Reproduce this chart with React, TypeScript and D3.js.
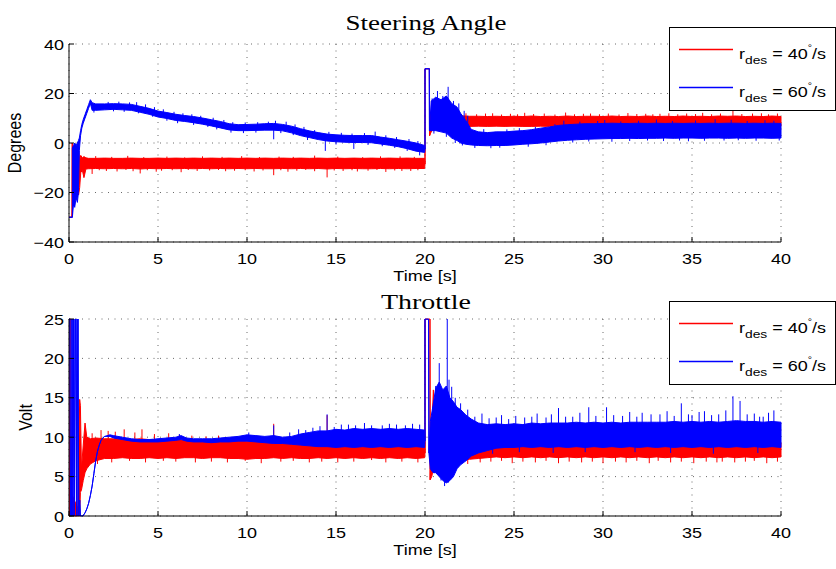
import React, { useEffect } from "react";
import * as d3 from "d3";

type Row = [number, number, number];
type Band = Row[];
type Spike = [number, number][];

// ---------- axis data ----------
const timeTicks = [0, 5, 10, 15, 20, 25, 30, 35, 40];
const timeTickLabels = ["0", "5", "10", "15", "20", "25", "30", "35", "40"];
const steerTicks = [-40, -20, 0, 20, 40];
const steerTickLabels = ["\u221240", "\u221220", "0", "20", "40"];
const throttleTicks = [0, 5, 10, 15, 20, 25];
const throttleTickLabels = ["0", "5", "10", "15", "20", "25"];
const legendValues = ["40", "60"];

// ---------- series: [time, low, high] envelopes ----------
const steer40: Band = [
  [0, -30, -30], [0.16, -30, -30], [0.17, -30, 0], [0.22, -24, -1], [0.3, -20, -3], [0.38, -23, -1], [0.46, -19, -4], [0.54, -21, -2],
  [0.6, -18, -7], [0.66, -12, -5], [0.75, -11, -6], [0.84, -14, -5.5], [0.95, -10.5, -6], [1.1, -10.4, -6.2], [1.5, -10.3, -6.2],
  [2, -10.4, -6.1], [2.5, -10.3, -6.2], [3, -10.4, -6.2], [3.5, -10.3, -6.1], [4, -10.5, -6.2], [4.5, -10.3, -6.2],
  [5, -10.4, -6.1], [5.5, -10.3, -6.2], [6, -10.4, -6.1], [6.5, -10.3, -6.2], [7, -10.4, -6.1], [7.5, -10.3, -6.2], [8, -10.4, -6.1],
  [8.5, -10.3, -6.2], [9, -10.4, -6.1], [9.5, -10.3, -6.2], [10, -10.4, -6.1], [10.5, -10.3, -6.2], [11, -10.4, -6.1], [11.5, -10.4, -6.2],
  [12, -10.3, -6.1], [12.5, -10.4, -6.2], [13, -10.3, -6.1], [13.5, -10.4, -6.2], [14, -10.3, -6.1], [14.5, -10.5, -6.2], [15, -10.3, -6.1],
  [15.5, -10.4, -6.2], [16, -10.3, -6.1], [16.5, -10.4, -6.2], [17, -10.4, -6.1], [17.5, -10.3, -6.2], [18, -10.4, -6.1], [18.5, -10.3, -6.2],
  [19, -10.4, -6.1], [19.5, -10.3, -6.2], [19.98, -10.3, -6.2],
  [20.0, -8.5, -8.5], [20.0, 30, 30], [20.25, 30, 30], [20.26, 3, 3], [20.32, 4, 12], [20.45, 6, 16], [20.6, 6.5, 14], [20.8, 6.2, 13],
  [21, 6.5, 12.5], [21.3, 6.4, 12], [21.6, 6.5, 11.5], [22, 6.7, 11], [22.5, 6.7, 10.8], [23, 6.8, 10.8],
  [23.5, 6.7, 10.7], [24, 6.8, 10.8], [24.5, 6.7, 10.7], [25, 6.8, 10.8], [25.5, 6.7, 10.7], [26, 6.7, 10.9], [26.5, 6.8, 10.7],
  [27, 6.7, 10.8], [27.5, 6.8, 10.7], [28, 6.7, 10.9], [28.5, 6.8, 10.7], [29, 6.7, 10.8], [29.5, 6.8, 10.8], [30, 6.7, 10.7],
  [30.5, 6.7, 10.9], [31, 6.8, 10.7], [31.5, 6.7, 10.8], [32, 6.8, 10.7], [32.5, 6.7, 10.9], [33, 6.8, 10.7], [33.5, 6.7, 10.8],
  [34, 6.7, 10.7], [34.5, 6.8, 10.9], [35, 6.7, 10.7], [35.5, 6.8, 10.8], [36, 6.7, 10.7], [36.5, 6.8, 10.9], [37, 6.7, 10.8],
  [37.5, 6.7, 10.9], [38, 6.8, 10.7], [38.5, 6.7, 10.8], [39, 6.8, 10.7], [39.5, 6.7, 10.9], [40, 6.8, 10.7],
];
const steer40Spikes: Spike = [
  [1.3, -12.5], [1.7, -11], [2.1, -11.3], [2.7, -11.5], [3.2, -10.9], [3.6, -11.4], [4.0, -12.3], [4.4, -11], [4.9, -11.6],
  [5.2, -11.2], [5.8, -11], [6.3, -11.8], [6.7, -10.9], [7.2, -11.3], [7.9, -11.1], [8.4, -10.9], [8.8, -11.4], [9.3, -11.2],
  [9.9, -11], [10.4, -11.5], [10.9, -11.1], [11.5, -13], [11.9, -11], [12.3, -11.6], [12.8, -11.2], [13.3, -10.9], [13.8, -11.4],
  [14.5, -13.9], [14.9, -11.1], [15.4, -11.3], [15.9, -11], [16.2, -11.5], [16.8, -11.2], [17.3, -10.9], [17.8, -11.7],
  [18.3, -11.1], [18.7, -11.3], [19.2, -11.3], [19.6, -11],
  [1.5, -5.3], [2.4, -5.6], [3.3, -5.2], [4.2, -5.7], [5.5, -5.5], [6.5, -5.8], [7.5, -5.4], [8.6, -5.6], [9.7, -5.3],
  [10.7, -5.7], [11.8, -5.5], [12.6, -5.6], [13.8, -5.1], [15.1, -5.5], [16.5, -5.7], [17.5, -5.4], [18.6, -5.4], [19.4, -5.6],
  [22.3, 12], [22.9, 11.6], [23.4, 11.9], [23.8, 12], [24.3, 11.5], [24.8, 11.8], [25.2, 11.6], [25.6, 12.2], [26.1, 11.7],
  [26.7, 11.9], [27.3, 11.5], [27.9, 12.3], [28.4, 11.6], [28.9, 11.8], [29.3, 11.9], [29.8, 11.6], [30.3, 11.9], [30.9, 11.5],
  [31.4, 12.1], [31.9, 11.7], [32.4, 11.8], [32.8, 11.6], [33.2, 11.8], [33.7, 12], [34.2, 11.6], [34.7, 11.9], [35.2, 11.7],
  [35.6, 12.2], [36.1, 11.6], [36.6, 11.9], [37.3, 13], [37.8, 11.7], [38.4, 11.9], [38.9, 12], [39.3, 11.6], [39.8, 11.9],
];

const steer60: Band = [
  [0, -30, -30], [0.19, -30, -30], [0.19, -30, -2], [0.25, -25, -1], [0.32, -26, 0], [0.4, -22, -1], [0.47, -24, 0], [0.53, -20, 1],
  [0.58, -3, 2], [0.65, 3, 5], [0.72, 6, 7.5], [0.8, 8, 9.5], [0.9, 10, 11.5], [1.0, 12, 13.5], [1.1, 14, 15.5], [1.2, 16, 17.5],
  [1.3, 13.2, 16.3], [1.5, 13.2, 15.8], [2, 13.4, 15.8], [2.5, 13.6, 15.9], [3, 13.4, 15.8], [3.5, 13.2, 15.6], [4, 12.4, 14.8],
  [4.5, 11.6, 14], [5, 10.5, 12.9], [5.5, 9.9, 12.3], [6, 9.1, 11.6], [6.5, 8.7, 11.1], [7, 8.2, 10.7], [7.5, 7.6, 10.1], [8, 6.9, 9.4],
  [8.5, 6.1, 8.7], [9, 5.3, 7.8], [9.5, 5, 7.4], [10, 5, 7.5], [10.5, 5.1, 7.6], [11, 5.2, 7.8], [11.5, 5.2, 7.9], [12, 4.9, 7.5],
  [12.5, 4.1, 6.8], [13, 3, 5.8], [13.5, 2.2, 4.9], [14, 1.4, 4.2], [14.5, 0.8, 3.6], [15, 0.5, 3.3], [15.5, 0.3, 3.1], [16, 0.2, 3],
  [16.5, 0.2, 3], [17, 0.1, 3], [17.5, -0.4, 2.4], [18, -0.9, 1.9], [18.5, -1.5, 1.3], [19, -2.3, 0.7], [19.5, -3.3, 0], [19.98, -3.8, -1],
  [20.0, -2.5, -2.5], [20.0, 30, 30], [20.24, 30, 30], [20.25, 5, 5], [20.35, 5, 17], [20.6, 5, 18.5], [20.9, 4.5, 17.5], [21.2, 4, 19],
  [21.5, 2, 16], [21.8, 1, 14.5], [22, 0, 12], [22.3, -0.5, 9], [22.6, -0.8, 5.5], [23, -1, 4.5], [23.5, -1.1, 4.2], [24, -1, 4.5],
  [24.5, -1, 4.5], [25, -0.8, 4.8], [25.5, -0.5, 5], [26, -0.3, 5.4], [26.5, 0, 6], [27, 0.4, 6.5], [27.5, 0.8, 7.1], [28, 1.1, 7.4],
  [28.5, 1.3, 7.6], [29, 1.5, 7.8], [29.5, 1.6, 7.8], [30, 1.7, 7.9], [30.5, 1.8, 8], [31, 1.8, 7.9], [31.5, 1.9, 7.9], [32, 1.8, 8],
  [32.5, 1.9, 7.9], [33, 1.9, 8], [33.5, 2, 7.9], [34, 1.9, 8], [34.5, 2, 7.9], [35, 2, 8], [35.5, 1.9, 7.9], [36, 2, 8],
  [36.5, 2, 7.9], [37, 1.9, 8], [37.5, 2, 8], [38, 1.9, 7.9], [38.5, 2, 8], [39, 2, 7.9], [39.5, 1.9, 8], [40, 2, 7.9],
];
const steer60Spikes: Spike = [
  [2.2, 16.6], [2.8, 16.7], [3.4, 16.4], [3.8, 16.5], [4.3, 15.6], [4.8, 14.5], [5.3, 13.6], [5.9, 12.6], [6.4, 12], [6.9, 11.6],
  [7.4, 11], [8.1, 10.2], [8.7, 9.3], [9.2, 8.4], [9.9, 8.3], [10.6, 8.4], [11.2, 8.6], [11.6, 9], [12.2, 8.6], [12.7, 7.5],
  [13.2, 6.5], [13.8, 5.2], [14.6, 4.5], [15.3, 4.1], [15.9, 3.8], [16.6, 4], [17.2, 4.6], [17.8, 3.1], [18.4, 2.4], [19.1, 1.6],
  [19.6, 0.8],
  [1.4, 12.3], [2.5, 12.8], [3.1, 12.6], [3.9, 12], [4.7, 10.6], [5.5, 9], [6.1, 8], [7, 7.3], [7.8, 6.5], [8.3, 5.5], [9.1, 4.2],
  [9.8, 4], [10.5, 4.2], [11.5, 1.5], [11.9, 4], [12.6, 3.2], [13.4, 1.2], [14.4, -3.2], [15, -0.6], [16, -2.4], [16.8, -0.8],
  [17.6, -1.3], [18.3, -2], [19, -3.2], [19.7, -5],
  [20.4, 18], [20.7, 21], [21.0, 19], [21.3, 22.7], [21.6, 17], [21.9, 16], [22.2, 13], [22.4, 11], [20.5, 3.8], [21.2, 2.5],
  [21.7, 0], [22.1, -1], [22.8, -2], [23.3, 5.6], [23.7, -2.1], [24.2, -1.9], [24.6, 5.5], [25.3, 6], [25.8, -1.5], [26.2, 6.5],
  [26.8, -0.9], [27.3, 7.6], [27.8, 9], [28.3, 0.2], [28.7, 8.6], [29.2, 0.6], [29.7, 8.9], [30.1, 9.3], [30.5, 0.5], [31.0, 8.7],
  [31.5, 0.8], [32.0, 9], [32.5, 1], [33, 9.5], [33.4, 0.8], [33.9, 8.9], [34.3, 1], [34.8, 0.7], [35.2, 9.1], [35.7, 0.9],
  [36.3, 9.6], [36.8, 1], [37.2, 9.4], [37.6, 1.1], [38.1, 8.9], [38.6, 0.9], [39.1, 9.2], [39.6, 9], [39.9, 1],
];

const throttle40: Band = [
  [0, 0, 0], [0.02, 0, 25], [0.1, 0, 25], [0.12, 0, 3], [0.3, 0, 2], [0.5, 0, 1], [0.6, 0, 14.8], [0.64, 3, 14], [0.7, 3.3, 6],
  [0.8, 4.5, 9], [0.9, 5.5, 11.8], [1.0, 6, 10], [1.2, 6.6, 9.8], [1.5, 7, 9.9], [2, 7.3, 9.8], [2.5, 7.3, 9.8], [3, 7.4, 9.8],
  [3.5, 7.3, 9.7], [4, 7.3, 9.8], [4.5, 7.4, 9.7], [5, 7.3, 9.7], [5.5, 7.4, 9.7], [6, 7.3, 9.7], [6.5, 7.4, 9.6], [7, 7.4, 9.6],
  [7.5, 7.3, 9.6], [8, 7.4, 9.6], [8.5, 7.4, 9.6], [9, 7.3, 9.5], [9.5, 7.3, 9.6], [10, 7.2, 9.5], [10.5, 7.3, 9.5], [11, 7.3, 9.4],
  [11.5, 7.4, 9.5], [12, 7.3, 9.5], [12.5, 7.4, 9.4], [13, 7.3, 9.5], [13.5, 7.3, 9.4], [14, 7.4, 9.5], [14.5, 7.3, 9.4],
  [15, 7.4, 9.5], [15.5, 7.3, 9.4], [16, 7.4, 9.5], [16.5, 7.3, 9.4], [17, 7.4, 9.5], [17.5, 7.3, 9.4], [18, 7.4, 9.4],
  [18.5, 7.3, 9.5], [19, 7.4, 9.4], [19.5, 7.3, 9.5], [19.98, 7.4, 9.4],
  [20.0, 8, 8], [20.0, 25, 25], [20.28, 25, 25], [20.29, 4.6, 4.6], [20.38, 5, 11], [20.47, 6, 16], [20.55, 5.5, 11],
  [20.7, 5.8, 10.5], [21, 6.2, 10], [21.5, 6.5, 9.8], [22, 7, 9.5], [22.5, 7.2, 9.4], [23, 7.3, 9.3], [23.5, 7.4, 9.3],
  [24, 7.5, 9.3], [24.5, 7.4, 9.3], [25, 7.5, 9.3], [25.5, 7.4, 9.2], [26, 7.5, 9.3], [26.5, 7.4, 9.3], [27, 7.5, 9.3],
  [27.5, 7.4, 9.2], [28, 7.5, 9.3], [28.5, 7.4, 9.3], [29, 7.5, 9.3], [29.5, 7.4, 9.2], [30, 7.5, 9.3], [30.5, 7.4, 9.3],
  [31, 7.5, 9.3], [31.5, 7.4, 9.2], [32, 7.5, 9.3], [32.5, 7.4, 9.3], [33, 7.5, 9.3], [33.5, 7.4, 9.2], [34, 7.5, 9.3],
  [34.5, 7.4, 9.3], [35, 7.5, 9.3], [35.5, 7.4, 9.2], [36, 7.5, 9.3], [36.5, 7.4, 9.3], [37, 7.5, 9.3], [37.5, 7.4, 9.2],
  [38, 7.5, 9.3], [38.5, 7.4, 9.3], [39, 7.5, 9.3], [39.5, 7.4, 9.2], [40, 7.5, 9.3],
];
const throttle40Spikes: Spike = [
  [1.3, 10.5], [1.8, 10.9], [2.2, 10.8], [2.6, 10.7], [3.1, 11], [3.7, 10.6], [4.1, 11], [4.8, 10.4], [5.6, 10.5], [6.2, 10.3],
  [6.9, 10.2], [7.7, 10.1], [8.4, 10.2], [9.1, 10], [9.7, 10.1], [10.4, 9.9], [11.5, 11.7], [12.2, 10], [13.1, 9.9], [14.5, 12.8],
  [15.3, 10], [16.2, 9.9], [17.3, 10], [18.4, 9.9], [19.4, 10],
  [1.6, 6.6], [2.4, 6.8], [3.4, 7], [4.3, 6.8], [5.3, 7], [6, 6.9], [7.1, 6.8], [8, 6.9], [8.9, 6.8], [9.9, 7], [10.8, 6.7],
  [11.9, 6.9], [12.6, 7], [13.5, 6.8], [14.2, 6.9], [15.1, 6.8], [16, 6.9], [17, 7.1], [17.8, 6.8], [18.7, 6.9], [19.6, 6.8],
  [20.9, 11.6], [21.4, 10.8], [22.2, 10.2], [20.8, 5], [21.3, 5.5], [21.8, 6.2], [22.4, 6.6], [23.1, 6.8], [23.7, 6.9],
  [24.3, 7], [24.9, 6.7], [25.5, 6.9], [26.2, 6.8], [26.8, 7], [27.5, 6.7], [28.1, 6.9], [28.8, 6.8], [29.4, 6.9], [30, 6.7],
  [30.7, 6.9], [31.3, 6.8], [31.9, 7], [32.6, 6.7], [33.1, 7], [33.8, 6.8], [34.4, 6.9], [35.1, 6.7], [35.8, 6.9], [36.4, 6.8],
  [36.7, 6.9], [37.4, 6.8], [38, 6.9], [38.5, 7], [39.2, 6.7], [39.8, 6.9],
];

const throttle60: Band = [
  [0, 25, 25], [0.05, 25, 25], [0.08, 0, 0], [0.14, 0, 0], [0.17, 25, 25], [0.22, 0, 0], [0.27, 25, 25], [0.31, 0, 0],
  [0.36, 25, 25], [0.4, 25, 25], [0.44, 0, 0], [0.5, 25, 25], [0.55, 0, 0], [0.6, 2, 2], [0.64, 0, 0], [0.78, 0, 0],
  [0.9, 0.4, 0.4], [1.0, 0.9, 0.9], [1.1, 1.6, 1.6], [1.2, 2.6, 2.6], [1.3, 3.8, 3.8], [1.4, 5.4, 5.4], [1.5, 7, 7],
  [1.6, 8.2, 8.2], [1.7, 9, 9], [1.8, 9.6, 9.6], [1.9, 9.9, 9.9], [2.0, 10.1, 10.1], [2.3, 10.1, 10.3], [2.5, 9.9, 10.2],
  [3, 9.7, 10], [3.5, 9.5, 9.8], [4, 9.4, 9.7], [4.5, 9.4, 9.7], [5, 9.4, 9.8], [5.5, 9.5, 9.9], [6, 9.6, 10], [6.3, 9.7, 10.2],
  [6.6, 9.5, 9.9], [7, 9.4, 9.8], [7.5, 9.4, 9.8], [8, 9.3, 9.8], [8.5, 9.4, 9.9], [9, 9.4, 10], [9.5, 9.5, 10.1], [10, 9.5, 10.3],
  [10.5, 9.4, 10.2], [11, 9.3, 10.1], [11.5, 9.2, 10.2], [12, 9.2, 10], [12.5, 9.1, 10.1], [13, 9, 10.4], [13.5, 8.9, 10.6],
  [14, 8.8, 10.8], [14.5, 8.8, 10.8], [15, 8.7, 11], [15.5, 8.8, 10.9], [16, 8.7, 11.1], [16.5, 8.8, 11], [17, 8.7, 11.1],
  [17.5, 8.8, 11], [18, 8.7, 11.1], [18.5, 8.8, 11], [19, 8.7, 11.1], [19.5, 8.8, 11], [19.98, 8.7, 10.9],
  [20.0, 9.5, 9.5], [20.0, 25, 25], [20.2, 25, 25], [20.22, 8, 8], [20.3, 6, 12], [20.45, 5.5, 14], [20.6, 5.5, 16.2],
  [20.8, 5, 17], [21.0, 4.5, 16], [21.2, 4.2, 16.5], [21.4, 4.5, 15], [21.6, 5, 14.5], [21.8, 6, 13.8], [22.0, 6.5, 13.5],
  [22.3, 7, 12.8], [22.6, 7.6, 12.3], [23, 8, 11.8], [23.5, 8.3, 11.6], [24, 8.6, 11.7], [24.5, 8.7, 11.6], [25, 8.7, 11.7],
  [25.5, 8.8, 11.6], [26, 8.7, 11.8], [26.5, 8.8, 11.7], [27, 8.7, 11.8], [27.5, 8.8, 11.8], [28, 8.7, 11.8], [28.5, 8.8, 11.9],
  [29, 8.7, 11.8], [29.5, 8.8, 11.9], [30, 8.7, 11.8], [30.5, 8.8, 11.9], [31, 8.7, 11.8], [31.5, 8.8, 11.9], [32, 8.7, 11.9],
  [32.5, 8.8, 11.9], [33, 8.7, 11.9], [33.5, 8.8, 11.9], [34, 8.7, 12], [34.5, 8.8, 11.9], [35, 8.7, 12], [35.5, 8.8, 11.9],
  [36, 8.7, 12], [36.5, 8.8, 11.9], [37, 8.7, 12], [37.5, 8.8, 12.1], [38, 8.7, 12], [38.5, 8.8, 12], [39, 8.7, 11.9],
  [39.5, 8.8, 12], [40, 8.7, 11.9],
];
const throttle60Spikes: Spike = [
  [6.2, 10.4], [10.1, 10.6], [11.5, 11.5], [12.4, 10.6], [12.9, 11], [13.3, 10.9], [13.7, 11.2], [14.1, 11.4], [14.5, 12.9],
  [14.9, 11.3], [15.3, 11.6], [15.7, 11.6], [16.1, 11.5], [16.6, 11.8], [17.0, 11.5], [17.6, 11.5], [18.0, 11.7], [18.4, 11.6],
  [18.9, 11.5], [19.3, 11.7], [19.7, 11.6],
  [20.8, 19.4], [21.25, 25], [21.35, 17.3], [21.5, 16.4], [20.6, 16.5], [21.1, 3.8], [21.3, 4.2], [20.9, 4.5], [21.7, 15],
  [22.0, 14.3], [22.4, 13.5],
  [22.8, 12.6], [23.2, 13], [23.6, 12.4], [24.0, 12.5], [24.3, 12.8], [24.7, 12.3], [25.1, 12.7], [25.6, 12.5], [26.0, 12.6],
  [26.3, 13], [26.8, 12.5], [27.1, 12.9], [27.5, 13.7], [27.9, 12.6], [28.3, 12.6], [28.7, 13.1], [29.2, 13.8], [29.6, 12.7],
  [30.2, 13.8], [30.6, 12.8], [31.1, 12.7], [31.5, 13.2], [31.9, 12.6], [32.2, 13.1], [32.7, 12.9], [33.2, 12.9], [33.6, 13.3],
  [34.0, 12.7], [34.4, 14.3], [34.8, 12.9], [35.0, 12.8], [35.4, 13.2], [35.7, 13.3], [36.1, 12.8], [36.5, 12.9], [36.9, 13.4],
  [37.3, 15.2], [37.7, 14.6], [38.1, 12.9], [38.5, 13], [38.8, 12.6], [39.0, 12.6], [39.3, 13.1], [39.6, 13.4],
  [23.8, 7.9], [25.3, 8.1], [27.2, 8], [29, 8.1], [31.8, 8.1], [33.8, 8], [36.2, 7.9], [38.7, 8],
];

// ---------- layout ----------
const W = 836;
const H = 569;
const LEFT = 69;
const RIGHT = 781;
const RED = "#ff0000";
const BLUE = "#0000ff";
const SANS = "'Liberation Sans', Arial, Helvetica, sans-serif";
const SERIF = "'Liberation Serif', 'Times New Roman', serif";

function midAt(band: Band, t: number) {
  const i = d3.bisector((d: Row) => d[0]).left(band, t);
  const a = band[Math.max(0, i - 1)];
  const b = band[Math.min(band.length - 1, i)];
  const f = b[0] === a[0] ? 0 : (t - a[0]) / (b[0] - a[0]);
  return ((a[1] + a[2]) / 2) * (1 - f) + ((b[1] + b[2]) / 2) * f;
}

function Label({ x, y, anchor = "middle", size = 15, children }: any) {
  return (
    <text transform={`translate(${x},${y}) scale(1.2,1)`} textAnchor={anchor} fontSize={size} fontFamily={SANS} fill="#000">
      {children}
    </text>
  );
}

function Legend({ top }: { top: number }) {
  const colors = [RED, BLUE];
  return (
    <g>
      <rect x={669.5} y={top + 0.5} width={166} height={83} fill="#fff" stroke="#000" strokeWidth={1} />
      {legendValues.map((v, i) => {
        const ly = top + 22.5 + i * 38;
        return (
          <g key={v}>
            <line x1={679} x2={733} y1={ly} y2={ly} stroke={colors[i]} strokeWidth={1.6} />
            <text transform={`translate(739,${ly + 9}) scale(1.2,1)`} fontSize={15} fontFamily={SANS} fill="#000">
              r
              <tspan fontSize={11.5} dy={5}>des</tspan>
              <tspan fontSize={15} dy={-5}>{` = ${v}`}</tspan>
              <tspan fontSize={9} dy={-8}>°</tspan>
              <tspan fontSize={15} dy={8}>/s</tspan>
            </text>
          </g>
        );
      })}
    </g>
  );
}

function Panel(props: {
  id: string;
  top: number;
  bottom: number;
  domain: [number, number];
  ticks: number[];
  tickLabels: string[];
  yLabel: string;
  yLabelX: number;
  title: string;
  titleY: number;
  titleLen: number;
  bands: Band[];
  spikes: Spike[];
}) {
  const { id, top, bottom, domain, ticks, tickLabels, yLabel, yLabelX, title, titleY, titleLen, bands, spikes } = props;
  const x = d3.scaleLinear().domain([0, 40]).range([LEFT, RIGHT]);
  const y = d3.scaleLinear().domain(domain).range([bottom, top]);
  const area = d3
    .area<Row>()
    .x((d) => x(d[0]))
    .y0((d) => y(d[1]))
    .y1((d) => y(d[2]));
  const colors = [RED, BLUE];
  const midY = (top + bottom) / 2;
  return (
    <g>
      <defs>
        <clipPath id={id}>
          <rect x={LEFT} y={top - 0.5} width={RIGHT - LEFT + 1} height={bottom - top + 1} />
        </clipPath>
      </defs>
      {/* grid */}
      {ticks.map((t) => (
        <line key={"h" + t} x1={LEFT} x2={RIGHT} y1={y(t)} y2={y(t)} stroke="#444" strokeWidth={0.8} strokeDasharray="1,5.5" />
      ))}
      {timeTicks.map((t) => (
        <line key={"v" + t} x1={x(t)} x2={x(t)} y1={top} y2={bottom} stroke="#444" strokeWidth={0.8} strokeDasharray="1,5.5" />
      ))}
      {/* data */}
      <g clipPath={`url(#${id})`}>
        {bands.map((b, i) => (
          <g key={i}>
            <path d={area(b) || ""} fill={colors[i]} stroke={colors[i]} strokeWidth={1} strokeLinejoin="round" />
            {spikes[i].map(([t, v], k) => (
              <line key={k} x1={x(t)} x2={x(t)} y1={y(midAt(b, t))} y2={y(v)} stroke={colors[i]} strokeWidth={1} />
            ))}
          </g>
        ))}
      </g>
      {/* axes */}
      <line x1={LEFT} x2={LEFT} y1={top} y2={bottom} stroke="#000" strokeWidth={1} />
      <line x1={LEFT} x2={RIGHT} y1={bottom} y2={bottom} stroke="#000" strokeWidth={1} />
      {ticks.map((t) => (
        <line key={"yt" + t} x1={LEFT} x2={LEFT + 5} y1={y(t)} y2={y(t)} stroke="#000" strokeWidth={1} />
      ))}
      {timeTicks.map((t) => (
        <line key={"xt" + t} x1={x(t)} x2={x(t)} y1={bottom} y2={bottom - 5} stroke="#000" strokeWidth={1} />
      ))}
      {ticks.map((t, i) => (
        <Label key={"yl" + t} x={LEFT - 5} y={y(t) + 5.5} anchor="end">
          {tickLabels[i]}
        </Label>
      ))}
      {timeTicks.map((t, i) => (
        <Label key={"xl" + t} x={x(t)} y={bottom + 22}>
          {timeTickLabels[i]}
        </Label>
      ))}
      <Label x={(LEFT + RIGHT) / 2} y={bottom + 39}>
        Time [s]
      </Label>
      <text
        transform={`translate(${yLabelX},${midY}) rotate(-90) scale(1,1.2)`}
        textAnchor="middle"
        fontSize={16}
        fontFamily={SANS}
        fill="#000"
      >
        {yLabel}
      </text>
      <text
        x={(LEFT + RIGHT) / 2 + 1}
        y={titleY}
        textAnchor="middle"
        fontSize={22}
        fontFamily={SERIF}
        textLength={titleLen}
        lengthAdjust="spacingAndGlyphs"
        fill="#000"
      >
        {title}
      </text>
    </g>
  );
}

export default function App() {
  useEffect(() => {
    document.body.style.margin = "0";
  }, []);
  return (
    <svg
      width={W}
      height={H}
      viewBox={`0 0 ${W} ${H}`}
      style={{ position: "absolute", left: 0, top: 0, display: "block", background: "#fff" }}
    >
      <rect x={0} y={0} width={W} height={H} fill="#fff" />
      <Panel
        id="clipSteer"
        top={44}
        bottom={242}
        domain={[-40, 40]}
        ticks={steerTicks}
        tickLabels={steerTickLabels}
        yLabel="Degrees"
        yLabelX={21}
        title="Steering Angle"
        titleY={30}
        titleLen={161}
        bands={[steer40, steer60]}
        spikes={[steer40Spikes, steer60Spikes]}
      />
      <Panel
        id="clipThrottle"
        top={319}
        bottom={516}
        domain={[0, 25]}
        ticks={throttleTicks}
        tickLabels={throttleTickLabels}
        yLabel="Volt"
        yLabelX={32}
        title="Throttle"
        titleY={309}
        titleLen={90}
        bands={[throttle40, throttle60]}
        spikes={[throttle40Spikes, throttle60Spikes]}
      />
      <Legend top={27} />
      <Legend top={301} />
    </svg>
  );
}
